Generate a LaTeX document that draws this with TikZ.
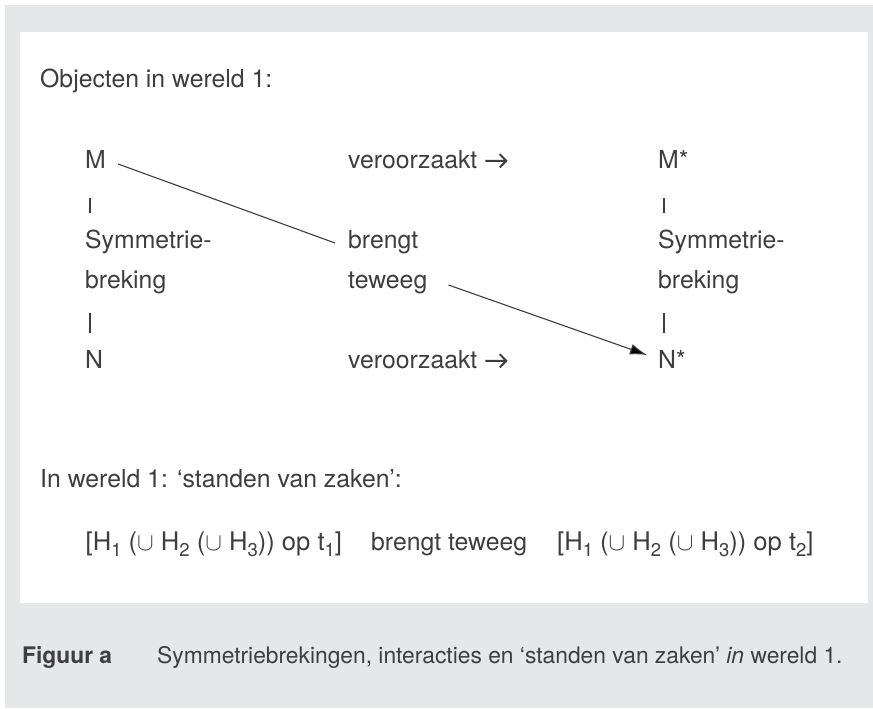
\documentclass[tikz,border=0pt]{standalone}
\usepackage{fontspec}
\setmainfont{TeX Gyre Heros}
\usetikzlibrary{calc,arrows.meta}
\definecolor{panel}{RGB}{230,231,233}
\definecolor{ink}{RGB}{62,62,62}
% lowered, smaller index digits
\newcommand\lowsub[1]{\raisebox{-0.26em}{\fontsize{18.5pt}{19pt}\selectfont #1}}
\newcommand\idx[2]{#1\lowsub{#2}}
% heavy chevron arrow used after "veroorzaakt"
\newcommand\rarr{\tikz[baseline=0pt]\draw[ink,line width=2pt,line join=miter]
  (0pt,7.2pt) -- (21pt,7.2pt) (14.5pt,13.8pt) -- (21pt,7.2pt) -- (14.5pt,0.6pt);}
\begin{document}
\begin{tikzpicture}[x=1pt,y=-1pt,
  txt/.style={inner sep=0pt,anchor=base west,text=ink,font=\fontsize{24.8pt}{30pt}\selectfont},
  formula/.style={txt,font=\fontsize{25.6pt}{30pt}\selectfont},
  captxt/.style={txt,font=\fontsize{22.8pt}{28pt}\selectfont},
  link/.style={draw=ink,line width=1.1pt},
  bar/.style={draw=ink,line width=1.2pt}]
\useasboundingbox (0,0) rectangle (873,709);
\fill[white] (0,0) rectangle (873,709);
\fill[panel] (5,5) rectangle (873,708);
\fill[white] (20,32) rectangle (868,603);

% heading
\node[txt] (head) at (40,88) {Objecten in wereld 1:};

% left column
\node[txt] (M)  at (85,168) {M};
\node[txt] (SL) at (85,248) {Symmetrie-};
\node[txt] (BL) at (85,288) {breking};
\node[txt] (N)  at (85,368) {N};

% middle column
\node[txt] (VM) at (348,168) {veroorzaakt \rarr};
\node[txt] (BR) at (348,248) {brengt};
\node[txt] (TW) at (348,288) {teweeg};
\node[txt] (VN) at (348,368) {veroorzaakt \rarr};

% right column
\node[txt] (Ms) at (658,168) {M*};
\node[txt] (SR) at (658,248) {Symmetrie-};
\node[txt] (BRk) at (658,288) {breking};
\node[txt] (Ns) at (658,368) {N*};

% vertical bars
\draw[bar] ($(M.base west)+(5,30)$) -- ($(M.base west)+(5,45)$);
\draw[bar] ($(N.base west)+(5,-55)$) -- ($(N.base west)+(5,-35)$);
\draw[bar] ($(Ms.base west)+(6,30)$) -- ($(Ms.base west)+(6,45)$);
\draw[bar] ($(Ns.base west)+(6,-55)$) -- ($(Ns.base west)+(6,-35)$);

% diagonal connectors
\draw[link] ($(M.base east)+(12,-4)$) -- ($(BR.base west)+(-13,-5)$);
\draw[link,-{Latex[length=17pt,width=11pt]}] ($(TW.base east)+(21,-3)$) -- ($(Ns.base west)+(-11,-13)$);

% states of affairs
\node[txt] (st) at (40,487) {In wereld 1: ‘standen van zaken’:};
\node[formula] (f1) at (85.5,550) {[\idx{H}{1} ($\cup$ \idx{H}{2} ($\cup$ \idx{H}{3})) op \idx{t}{1}]};
\node[txt] (f2) at (371,550) {brengt teweeg};
\node[formula] (f3) at (557,550) {[\idx{H}{1} ($\cup$ \idx{H}{2} ($\cup$ \idx{H}{3})) op \idx{t}{2}]};

% caption
\node[captxt,font=\fontsize{22.8pt}{28pt}\selectfont\bfseries] (fig) at (22,663) {Figuur a};
\node[captxt] (cap) at (157,663) {Symmetriebrekingen, interacties en ‘standen van zaken’ \textit{in} wereld 1.};
\end{tikzpicture}
\end{document}
